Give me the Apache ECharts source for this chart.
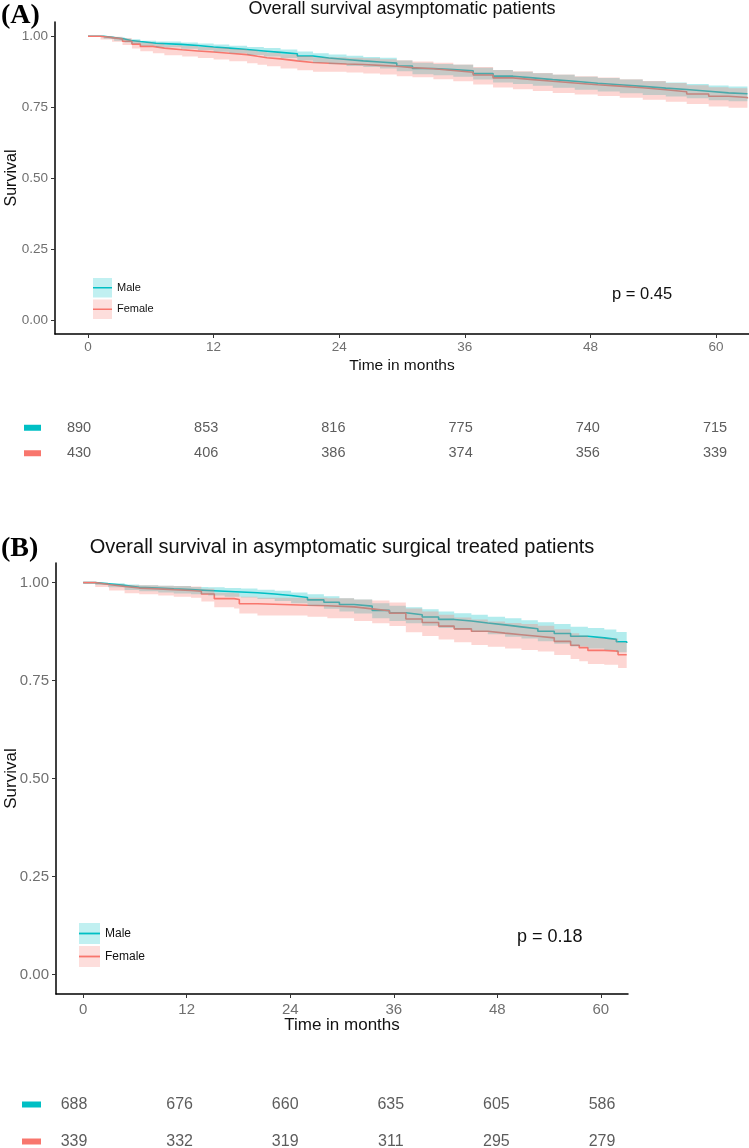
<!DOCTYPE html>
<html><head><meta charset="utf-8">
<script src="https://cdn.jsdelivr.net/npm/echarts@6/dist/echarts.min.js"></script>
<style>html,body{margin:0;padding:0;background:#fff}#c{width:749px;height:1148px}</style>
</head><body><div id="c"></div>
<script>
// ---------- data ----------
const timeTicks = [0, 12, 24, 36, 48, 60];
const survTicks = [0, 0.25, 0.5, 0.75, 1];
const groups = ['Male', 'Female'];

const titleA = 'Overall survival asymptomatic patients';
const titleB = 'Overall survival in asymptomatic surgical treated patients';
const pA = 'p = 0.45';
const pB = 'p = 0.18';

// Panel A - Male
const aMaleT  = [0, 1.5, 2.5, 3.5, 4.1, 5, 6.5, 8.9, 10.5, 12, 13.5, 15.2, 16.8, 18.4, 20, 21.5, 23, 24.7, 26.3, 27.9, 29.5, 31, 33, 34.9, 36.8, 38.7, 40.6, 42.5, 44.4, 46.5, 48.7, 50.8, 53, 55.2, 57.2, 59.3, 61.2, 63];
const aMaleS  = [1, .995, .99, .985, .981, .975, .971, .967, .962, .958, .953, .948, .943, .938, .930, .923, .918, .913, .909, .905, .895, .886, .882, .878, .868, .859, .853, .847, .841, .834, .829, .823, .817, .812, .806, .800, .797, .796];
const aMaleHi = [1, .999, .996, .992, .989, .984, .981, .978, .974, .971, .966, .962, .958, .953, .946, .940, .935, .931, .927, .924, .914, .906, .902, .899, .889, .881, .875, .869, .864, .857, .853, .847, .841, .837, .831, .826, .823, .822];
const aMaleLo = [1, .991, .984, .978, .973, .966, .961, .956, .950, .945, .940, .934, .928, .923, .914, .906, .901, .895, .891, .886, .876, .866, .862, .857, .847, .837, .831, .825, .818, .811, .805, .799, .793, .787, .781, .774, .771, .770];
// Panel A - Female
const aFemT  = [0, 1.2, 2.3, 3.3, 4.2, 5, 6.2, 7.3, 9, 10.5, 12, 13.5, 15.2, 16.2, 17.1, 18.4, 20, 21.5, 24.7, 26.3, 27.9, 29.5, 31, 33, 34.9, 36.8, 38.7, 40.6, 42.5, 44.4, 46.5, 48.7, 50.8, 53, 55.2, 57.2, 59.3, 61.2, 63];
const aFemS  = [1, .995, .990, .982, .972, .964, .958, .952, .948, .944, .940, .935, .929, .924, .920, .913, .907, .902, .900, .897, .894, .889, .885, .879, .873, .863, .853, .847, .841, .835, .829, .824, .818, .811, .804, .796, .788, .784, .780];
const aFemHi = [1, 1, .998, .993, .985, .978, .973, .968, .965, .962, .959, .955, .950, .945, .942, .936, .930, .926, .924, .922, .919, .915, .911, .906, .900, .891, .881, .876, .870, .865, .859, .854, .848, .842, .835, .827, .820, .816, .812];
const aFemLo = [1, .988, .980, .969, .957, .947, .940, .933, .928, .923, .918, .912, .905, .899, .894, .886, .880, .875, .872, .868, .865, .859, .855, .848, .841, .830, .819, .813, .807, .800, .794, .789, .783, .776, .769, .761, .752, .748, .744];
// Panel A - numbers at risk
const aRiskMale   = [890, 853, 816, 775, 740, 715];
const aRiskFemale = [430, 406, 386, 374, 356, 339];

// Panel B - Male
const bMaleT  = [0, 1.4, 2.9, 4.8, 6.5, 8.7, 10.5, 12.5, 14.5, 16.4, 18.3, 20.2, 22.2, 24.1, 26, 27.9, 29.7, 31.4, 33.5, 35.5, 37.4, 39.3, 41.2, 43, 45, 46.9, 48.9, 50.8, 52.7, 54.6, 56.5, 58.5, 60.4, 61.8, 63];
const bMaleS  = [1, .997, .993, .988, .986, .984, .982, .980, .978, .976, .974, .971, .967, .962, .956, .950, .944, .940, .929, .923, .918, .912, .906, .902, .897, .892, .887, .882, .876, .870, .863, .859, .855, .849, .846];
const bMaleHi = [1, 1, .998, .995, .993, .992, .991, .989, .988, .986, .985, .982, .979, .975, .970, .965, .960, .957, .947, .941, .937, .932, .926, .922, .918, .913, .909, .904, .899, .894, .887, .884, .880, .874, .871];
const bMaleLo = [1, .994, .988, .981, .978, .975, .972, .970, .967, .964, .962, .958, .953, .947, .940, .933, .926, .921, .909, .902, .896, .890, .884, .879, .874, .868, .862, .857, .850, .844, .837, .832, .828, .822, .819];
// Panel B - Female
const bFemT  = [0, 1.4, 3, 4.8, 6.5, 8.7, 10.5, 12.5, 13.7, 15.2, 17.5, 18.1, 20.2, 26, 28.3, 31.4, 33.5, 35.5, 37.4, 39.3, 41.2, 43, 45, 46.9, 48.9, 50.8, 52.7, 54.6, 56.5, 57.5, 58.5, 60.4, 62, 63];
const bFemS  = [1, .995, .99, .986, .984, .982, .980, .978, .971, .959, .957, .946, .942, .941, .938, .933, .928, .922, .907, .898, .889, .882, .876, .871, .867, .863, .859, .850, .840, .834, .827, .825, .816, .816];
const bFemHi = [1, .998, .996, .994, .993, .992, .991, .990, .984, .974, .973, .964, .961, .961, .960, .957, .954, .949, .934, .926, .918, .911, .906, .901, .897, .894, .890, .881, .871, .865, .859, .857, .848, .848];
const bFemLo = [1, .989, .980, .973, .970, .967, .964, .961, .952, .937, .934, .921, .916, .913, .909, .902, .896, .889, .873, .864, .855, .848, .841, .836, .832, .828, .824, .815, .805, .799, .792, .790, .782, .782];
// Panel B - numbers at risk
const bRiskMale   = [688, 676, 660, 635, 605, 586];
const bRiskFemale = [339, 332, 319, 311, 295, 279];

// ---------- styling ----------
const FONT = "'Liberation Sans', Arial, Helvetica, sans-serif";
const SERIF = "'Liberation Serif', 'Times New Roman', serif";
const TEAL = '#00BFC4', RED = '#F8766D';
const TEAL_BAND = 'rgba(0,191,196,0.3)', RED_BAND = 'rgba(248,118,109,0.3)';
const TEAL_KEY = '#b2eced', RED_KEY = '#fdd6d3';

function pairs(t, v) { return t.map((x, i) => [x, v[i]]); }
function triples(t, lo, hi) { return t.map((x, i) => [x, lo[i], hi[i]]); }

function bandRender(color) {
  return function (params, api) {
    if (params.dataIndexInside !== 0) return null;
    const n = params.dataInsideLength;
    const up = [], low = [];
    for (let i = 0; i < n; i++) {
      const t = api.value(0, i), l = api.value(1, i), h = api.value(2, i);
      const tn = i < n - 1 ? api.value(0, i + 1) : t;
      up.push(api.coord([t, h]), api.coord([tn, h]));
      low.push(api.coord([t, l]), api.coord([tn, l]));
    }
    return { type: 'polygon', shape: { points: up.concat(low.reverse()) }, style: { fill: color }, silent: true };
  };
}

const panelCfg = [
  { grid: { left: 55, top: 22, width: 694, height: 312 }, table: { left: 79, top: 415, width: 636, height: 51 },
    tick: 13.5, xName: 15.5, xNameGap: 24, yName: 16, yNameGap: 35, num: 14.5, markMargin: 38, markW: 17, xLabMargin: 6,
    male: [aMaleT, aMaleS, aMaleLo, aMaleHi], female: [aFemT, aFemS, aFemLo, aFemHi], risk: [aRiskMale, aRiskFemale] },
  { grid: { left: 56, top: 563, width: 572, height: 431 }, table: { left: 74, top: 1086, width: 528, height: 74 },
    tick: 15, xName: 17, xNameGap: 23, yName: 17, yNameGap: 36, num: 16, markMargin: 33, markW: 19, xLabMargin: 8,
    male: [bMaleT, bMaleS, bMaleLo, bMaleHi], female: [bFemT, bFemS, bFemLo, bFemHi], risk: [bRiskMale, bRiskFemale] }
];

const grids = [], xAxes = [], yAxes = [];
const series = [
  { type: 'scatter', name: 'Male', data: [], xAxisIndex: 0, yAxisIndex: 0 },
  { type: 'scatter', name: 'Female', data: [], xAxisIndex: 0, yAxisIndex: 0 }
];

panelCfg.forEach((c, p) => {
  const g = p * 2, tg = p * 2 + 1;
  grids.push(Object.assign({ outerBoundsMode: 'none', containLabel: false }, c.grid));
  grids.push(Object.assign({ outerBoundsMode: 'none', containLabel: false }, c.table));
  xAxes.push({
    gridIndex: g, type: 'value', min: -3.15, max: 63.15,
    axisLine: { show: true, onZero: false, lineStyle: { color: '#000', width: 1.5 } },
    axisTick: { show: true, customValues: timeTicks, length: 4, lineStyle: { color: '#333', width: 1 } },
    axisLabel: { customValues: timeTicks, color: '#707070', fontSize: c.tick, fontFamily: FONT, margin: c.xLabMargin },
    splitLine: { show: false },
    name: 'Time in months', nameLocation: 'middle', nameGap: c.xNameGap, nameMoveOverlap: false,
    nameTextStyle: { color: '#111', fontSize: c.xName, fontFamily: FONT }
  });
  xAxes.push({ gridIndex: tg, type: 'value', min: 0, max: 60, show: false });
  yAxes.push({
    gridIndex: g, type: 'value', min: -0.05, max: 1.05,
    axisLine: { show: true, onZero: false, lineStyle: { color: '#000', width: 1.5 } },
    axisTick: { show: true, customValues: survTicks, length: 4, lineStyle: { color: '#333', width: 1 } },
    axisLabel: { customValues: survTicks, color: '#707070', fontSize: c.tick, fontFamily: FONT, margin: 7,
                 formatter: v => Number(v).toFixed(2) },
    splitLine: { show: false },
    name: 'Survival', nameLocation: 'middle', nameGap: c.yNameGap, nameMoveOverlap: false,
    nameTextStyle: { color: '#111', fontSize: c.yName, fontFamily: FONT }
  });
  yAxes.push({
    gridIndex: tg, type: 'category', data: ['Female', 'Male'],
    axisLine: { show: false }, axisTick: { show: false },
    axisLabel: {
      margin: c.markMargin, formatter: v => v === 'Male' ? '{m| }' : '{f| }',
      rich: { m: { backgroundColor: TEAL, width: c.markW, height: 6, fontSize: 4 },
              f: { backgroundColor: RED, width: c.markW, height: 6, fontSize: 4 } }
    }
  });

  const [mT, mS, mLo, mHi] = c.male;
  const [fT, fS, fLo, fHi] = c.female;
  series.push(
    { type: 'line', name: 'Male', xAxisIndex: g, yAxisIndex: g, data: pairs(mT, mS), step: 'end',
      showSymbol: false, symbol: 'none', lineStyle: { color: TEAL, width: 1.6 }, itemStyle: { color: TEAL }, z: 2, silent: true },
    { type: 'line', name: 'Female', xAxisIndex: g, yAxisIndex: g, data: pairs(fT, fS), step: 'end',
      showSymbol: false, symbol: 'none', lineStyle: { color: RED, width: 1.6 }, itemStyle: { color: RED }, z: 2, silent: true },
    { type: 'custom', name: 'Male 95% CI', xAxisIndex: g, yAxisIndex: g, data: triples(mT, mLo, mHi),
      encode: { x: 0, y: [1, 2] }, renderItem: bandRender(TEAL_BAND), z: 3, silent: true },
    { type: 'custom', name: 'Female 95% CI', xAxisIndex: g, yAxisIndex: g, data: triples(fT, fLo, fHi),
      encode: { x: 0, y: [1, 2] }, renderItem: bandRender(RED_BAND), z: 4, silent: true }
  );
  groups.forEach((grp, k) => {
    series.push({
      type: 'scatter', name: grp + ' at risk', xAxisIndex: tg, yAxisIndex: tg, clip: false, silent: true,
      data: timeTicks.map((t, i) => [t, grp, c.risk[k][i]]), encode: { x: 0, y: 1 },
      symbolSize: 1, itemStyle: { color: 'rgba(0,0,0,0)' },
      label: { show: true, position: 'inside', formatter: pp => String(pp.value[2]),
               color: '#333', fontSize: c.num, fontFamily: FONT }
    });
  });
});

const option = {
  animation: false,
  backgroundColor: '#fff',
  textStyle: { fontFamily: FONT },
  title: [
    { text: '(A)', left: 1, top: 2, padding: 0, textStyle: { fontFamily: SERIF, fontWeight: 'bold', fontSize: 28, color: '#000' } },
    { text: titleA, left: 402, top: 0, padding: 0, textAlign: 'center', textStyle: { fontFamily: FONT, fontWeight: 'normal', fontSize: 18, color: '#111' } },
    { text: pA, left: 612, top: 286, padding: 0, textStyle: { fontFamily: FONT, fontWeight: 'normal', fontSize: 16.5, color: '#111' } },
    { text: '(B)', left: 1, top: 535, padding: 0, textStyle: { fontFamily: SERIF, fontWeight: 'bold', fontSize: 28, color: '#000' } },
    { text: titleB, left: 342, top: 537, padding: 0, textAlign: 'center', textStyle: { fontFamily: FONT, fontWeight: 'normal', fontSize: 20, color: '#111' } },
    { text: pB, left: 517, top: 928, padding: 0, textStyle: { fontFamily: FONT, fontWeight: 'normal', fontSize: 18, color: '#111' } }
  ],
  legend: [
    { left: 93, top: 278, orient: 'vertical', icon: 'rect', itemWidth: 19, itemHeight: 19.5, itemGap: 2, padding: 0,
      selectedMode: false, textStyle: { fontSize: 11, color: '#111', fontFamily: FONT },
      data: [{ name: 'Male', itemStyle: { color: TEAL_KEY } }, { name: 'Female', itemStyle: { color: RED_KEY } }] },
    { left: 79, top: 923, orient: 'vertical', icon: 'rect', itemWidth: 21, itemHeight: 21, itemGap: 2, padding: 0,
      selectedMode: false, textStyle: { fontSize: 12, color: '#111', fontFamily: FONT },
      data: [{ name: 'Male', itemStyle: { color: TEAL_KEY } }, { name: 'Female', itemStyle: { color: RED_KEY } }] }
  ],
  graphic: [
    { type: 'line', shape: { x1: 93, y1: 287.75, x2: 112, y2: 287.75 }, style: { stroke: TEAL, lineWidth: 1.5 }, z: 10 },
    { type: 'line', shape: { x1: 93, y1: 309.25, x2: 112, y2: 309.25 }, style: { stroke: RED, lineWidth: 1.5 }, z: 10 },
    { type: 'line', shape: { x1: 79, y1: 933.5, x2: 100, y2: 933.5 }, style: { stroke: TEAL, lineWidth: 1.8 }, z: 10 },
    { type: 'line', shape: { x1: 79, y1: 956.5, x2: 100, y2: 956.5 }, style: { stroke: RED, lineWidth: 1.8 }, z: 10 }
  ],
  grid: grids,
  xAxis: xAxes,
  yAxis: yAxes,
  series: series
};

const chart = echarts.init(document.getElementById('c'), null, { renderer: 'canvas' });
chart.setOption(option);
</script></body></html>
